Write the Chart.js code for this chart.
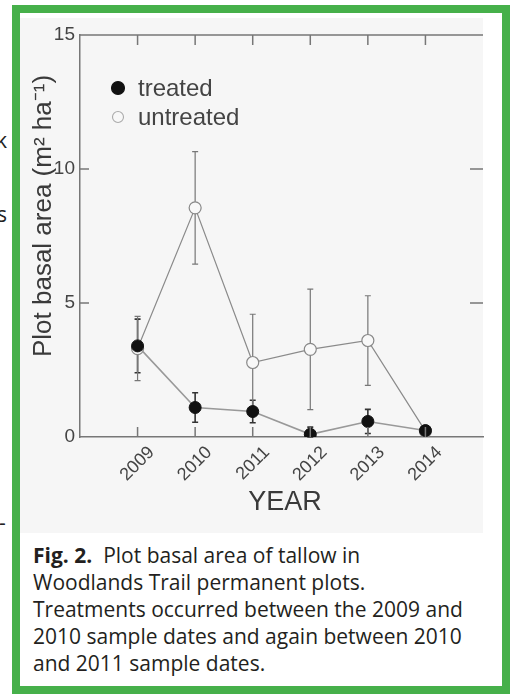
<!DOCTYPE html>
<html><head><meta charset="utf-8">
<script src="https://cdn.jsdelivr.net/npm/chart.js@4"></script>
<style>
html,body{margin:0;padding:0;background:#fff;width:512px;height:694px;overflow:hidden;position:relative;}
#frame{position:absolute;left:12px;top:5px;width:482px;height:673px;border:8px solid #46b04a;background:#fff;}
#bg{position:absolute;left:0;top:5px;width:463px;height:515px;background:#f6f6f6;}
#wrap{position:absolute;left:0;top:0;width:482px;height:522px;}
#cap{position:absolute;left:13px;top:529px;white-space:nowrap;font-family:"Open Sans","Noto Sans",sans-serif;font-size:21px;line-height:27px;color:#231f20;}
#cap b{font-weight:700;}
.frag{position:absolute;font-family:"Open Sans","Noto Sans",sans-serif;font-size:21px;color:#222;}
</style>
</head><body>
<div class="frag" style="left:-4px;top:126px;">k</div>
<div class="frag" style="left:-3px;top:200px;">s</div>
<div class="frag" style="left:-1px;top:508px;">-</div>
<div id="frame">
  <div id="bg"></div>
  <div id="wrap"><canvas id="c" width="482" height="522"></canvas></div>
  <div id="cap"><b>Fig. 2.</b>&nbsp; Plot basal area of tallow in<br>Woodlands Trail permanent plots.<br>Treatments occurred between the 2009 and<br>2010 sample dates and again between 2010<br>and 2011 sample dates.</div>
</div>
<script>
const years = [2009, 2010, 2011, 2012, 2013, 2014];
const treated = [3.4, 1.1, 0.95, 0.1, 0.58, 0.24];
const treatedErr = [1.0, 0.55, 0.42, 0.27, 0.45, 0.12];
const untreated = [3.3, 8.55, 2.78, 3.27, 3.6, 0.22];
const untreatedErr = [1.2, 2.1, 1.8, 2.25, 1.67, 0];
const yTicks = [0, 5, 10, 15];
const innerYTicks = [5, 10];
const seriesNames = ['treated', 'untreated'];
const xTitle = 'YEAR';
const yTitle = 'Plot basal area (m\u00B2 ha\u207B\u00B9)';

const FONT = '"Liberation Sans", Arial, Helvetica, sans-serif';
const AX = '#777';

const pts = vals => years.map((y, i) => ({x: y, y: vals[i]}));

const errorBars = {
  id: 'errorBars',
  beforeDatasetsDraw(chart) {
    const {ctx, scales: {x, y}} = chart;
    chart.data.datasets.forEach(ds => {
      const errs = ds.errs; if (!errs) return;
      ctx.save();
      ctx.strokeStyle = ds.errColor; ctx.lineWidth = ds.errWidth;
      ds.data.forEach((p, i) => {
        const e = errs[i]; if (!e) return;
        const px = x.getPixelForValue(p.x);
        const y1 = y.getPixelForValue(p.y + e), y2 = y.getPixelForValue(Math.max(0, p.y - e));
        ctx.beginPath();
        ctx.moveTo(px, y1); ctx.lineTo(px, y2);
        ctx.moveTo(px - 3, y1); ctx.lineTo(px + 3, y1);
        ctx.moveTo(px - 3, y2); ctx.lineTo(px + 3, y2);
        ctx.stroke();
      });
      ctx.restore();
    });
  }
};

const frameDeco = {
  id: 'frameDeco',
  afterDraw(chart) {
    const {ctx, chartArea: ca, scales: {x, y}} = chart;
    ctx.save();
    ctx.strokeStyle = AX; ctx.lineWidth = 1.5;
    ctx.beginPath();
    ctx.moveTo(ca.left, ca.top); ctx.lineTo(ca.right, ca.top);
    years.forEach(v => {
      const px = x.getPixelForValue(v);
      ctx.moveTo(px, ca.bottom); ctx.lineTo(px, ca.bottom - 10);
      ctx.moveTo(px, ca.top); ctx.lineTo(px, ca.top + 10);
    });
    innerYTicks.forEach(v => {
      const py = y.getPixelForValue(v);
      ctx.moveTo(ca.left, py); ctx.lineTo(ca.left + 9, py);
      ctx.moveTo(ca.right - 13, py); ctx.lineTo(ca.right, py);
    });
    ctx.stroke();
    // axis titles
    ctx.fillStyle = '#3a3a3a';
    ctx.font = '27px ' + FONT;
    ctx.textAlign = 'center'; ctx.textBaseline = 'middle';
    ctx.fillText(xTitle, 265, 490);
    ctx.font = '26px ' + FONT;
    ctx.save();
    ctx.translate(24, 203); ctx.rotate(-Math.PI / 2);
    ctx.fillText(yTitle, 0, 0);
    ctx.restore();
    // legend
    ctx.font = '24px ' + FONT;
    ctx.textAlign = 'left';
    chart.data.datasets.forEach((ds, i) => {
      const cy = 75 + i * 29, cx = 98;
      ctx.beginPath(); ctx.arc(cx, cy, i === 0 ? 6.5 : 5.5, 0, Math.PI * 2);
      ctx.fillStyle = ds.pointBackgroundColor; ctx.fill();
      ctx.lineWidth = 1.1; ctx.strokeStyle = i === 0 ? ds.pointBorderColor : '#aaa'; ctx.stroke();
      ctx.fillStyle = '#444';
      ctx.fillText(ds.label, 118, cy + 1);
    });
    ctx.restore();
  }
};

new Chart(document.getElementById('c'), {
  type: 'line',
  data: {
    datasets: [
      {label: seriesNames[0], data: pts(treated), errs: treatedErr, errColor: '#333', errWidth: 1.6,
       borderColor: '#999', borderWidth: 1.6, pointBackgroundColor: '#111', pointBorderColor: '#111',
       pointRadius: 6, pointBorderWidth: 1, tension: 0},
      {label: seriesNames[1], data: pts(untreated), errs: untreatedErr, errColor: '#777', errWidth: 1.2,
       borderColor: '#8a8a8a', borderWidth: 1.2, pointBackgroundColor: '#f8f8f8', pointBorderColor: '#888',
       pointRadius: 6, pointBorderWidth: 1.2, tension: 0}
    ]
  },
  options: {
    responsive: false, animation: false,
    layout: {padding: {top: 22, right: 19, left: 0, bottom: 0}},
    plugins: {legend: {display: false}, tooltip: {enabled: false}},
    scales: {
      x: {type: 'linear', min: 2008, max: 2015,
        afterBuildTicks: s => { s.ticks = years.map(v => ({value: v})); },
        afterFit: s => { s.height = 98; },
        grid: {display: false, drawTicks: false},
        border: {display: true, color: AX, width: 1.5},
        ticks: {autoSkip: false, minRotation: 45, maxRotation: 45, labelOffset: 14, padding: 5,
          color: '#444', font: {family: FONT, size: 18}, callback: v => String(v)}},
      y: {min: 0, max: 15,
        afterBuildTicks: s => { s.ticks = yTicks.map(v => ({value: v})); },
        afterFit: s => { s.width = 60; },
        grid: {display: false, drawTicks: false},
        border: {display: true, color: AX, width: 1.5},
        ticks: {padding: 5, color: '#444', font: {family: FONT, size: 19}, callback: v => String(v)}}
    }
  },
  plugins: [errorBars, frameDeco]
});
</script>
</body></html>
